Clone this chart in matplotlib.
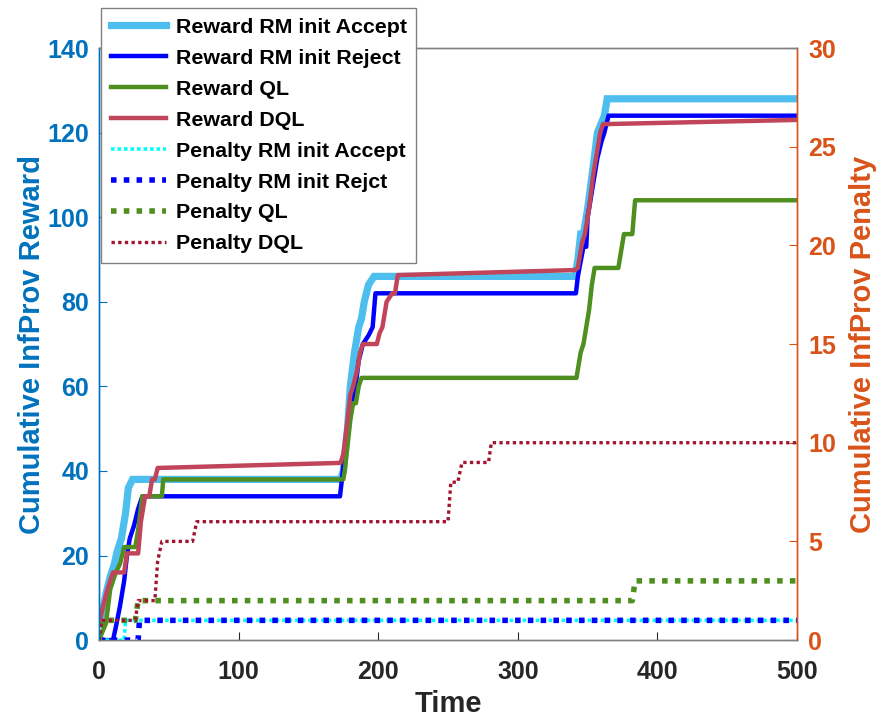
import matplotlib
matplotlib.use("Agg")
import matplotlib.pyplot as plt

plt.rcParams['font.family'] = ['Liberation Sans', 'DejaVu Sans']
plt.rcParams['font.weight'] = 'bold'

# ---- data ----
t_acc = [0, 2, 5, 8, 11, 13, 16, 19, 21, 24, 173, 175, 178, 180, 183, 186, 188, 190, 193, 197,
         341, 343, 345, 347, 350, 354, 357, 362, 364, 500]
r_acc = [4, 6, 11, 15, 18, 21, 24, 30, 36, 38, 38, 40, 50, 60, 68, 74, 76, 80, 84, 86,
         86, 90, 96, 96, 102, 112, 120, 124, 128, 128]

t_rej = [0, 10, 12, 15, 18, 20, 22, 25, 28, 31, 172.6, 174, 177, 180, 183, 186, 189, 193, 196, 198,
         341.6, 343, 347, 349, 350, 353, 357, 360, 362, 365, 500]
r_rej = [0, 0, 3, 8, 14, 20, 24, 27, 31, 34, 34, 38, 48, 56, 58, 66, 70, 72, 74, 82,
         82, 86, 93, 93, 100, 106, 114, 118, 120, 124, 124]

t_ql = [0, 5, 8, 12, 15, 18, 26, 28, 31, 45, 46, 175, 176, 178, 180, 182, 184, 186, 188,
        342, 343, 345, 347, 349, 351, 353, 355, 372, 374, 376, 378, 382, 383, 384, 500]
r_ql = [0, 4, 12, 16, 18, 22, 22, 26, 34, 34, 38, 38, 40, 46, 52, 56, 56, 60, 62,
        62, 64, 68, 70, 74, 78, 84, 88, 88, 92, 96, 96, 96, 100, 104, 104]

t_dql = [0, 3, 6, 10, 18, 20, 28, 30, 33, 36, 38, 40, 42, 173, 175, 178, 180, 182, 185, 187, 189,
         199, 201, 203, 206, 210, 212, 214, 341, 343, 346, 348, 351, 354, 357, 359, 361, 500]
r_dql = [4, 8, 12, 16, 16, 20.5, 20.5, 28, 34, 34, 38, 38, 40.7, 41.9, 44, 52, 58, 60, 64, 68, 70,
         70, 72.6, 74, 80, 82, 82, 86.3, 87.5, 88, 94, 96, 102, 110, 116, 120, 122, 123]

t_pacc = [0, 18, 19, 500]
p_pacc = [0, 0, 1, 1]

t_prej = [0, 28, 29, 500]
p_prej = [0, 0, 1, 1]

t_pql = [0, 3, 26, 28, 382, 384, 500]
p_pql = [0, 1, 1, 2, 2, 3, 3]

t_pdql = [0, 2, 26, 28, 40, 42, 45, 67, 70, 250, 252, 257, 260, 279, 281, 500]
p_pdql = [0, 1, 1, 2, 2, 4, 5, 5, 6, 6, 8, 8, 9, 9, 10, 10]

labels = ["Reward RM init Accept", "Reward RM init Reject", "Reward QL", "Reward DQL",
          "Penalty RM init Accept", "Penalty RM init Rejct", "Penalty QL", "Penalty DQL"]

x_ticks = [0, 100, 200, 300, 400, 500]
y_ticks = [0, 20, 40, 60, 80, 100, 120, 140]
y2_ticks = [0, 5, 10, 15, 20, 25, 30]

# ---- styles ----
c_acc, c_rej, c_ql, c_dql = '#4DBEEE', '#0000FF', '#4E8F1F', '#C0455A'
c_pacc, c_prej, c_pql, c_pdql = '#00FFFF', '#0000FF', '#4E8F1F', '#A2142F'
c_left, c_right = '#0072BD', '#D95319'

fig = plt.figure(figsize=(8.81, 7.2), dpi=100)
ax = fig.add_axes([0.1124, 0.111, 0.7923, 0.8223])
ax2 = ax.twinx()

h1, = ax.plot(t_acc, r_acc, color=c_acc, lw=5.2, solid_joinstyle='miter')
h2, = ax.plot(t_rej, r_rej, color=c_rej, lw=3.2)
h3, = ax.plot(t_ql, r_ql, color=c_ql, lw=3.2)
h4, = ax.plot(t_dql, r_dql, color=c_dql, lw=3.2)

h5, = ax2.plot(t_pacc, p_pacc, color=c_pacc, lw=2.6, linestyle=(0, (1, 0.8)))
h6, = ax2.plot(t_prej, p_prej, color=c_prej, lw=4.0, linestyle=(0, (1, 1.3)))
h7, = ax2.plot(t_pql, p_pql, color=c_pql, lw=4.0, linestyle=(0, (1, 1.3)))
h8, = ax2.plot(t_pdql, p_pdql, color=c_pdql, lw=2.4, linestyle=(0, (1, 1)))

ax.set_xlim(0, 500)
ax.set_ylim(0, 140)
ax2.set_ylim(0, 30)
ax.set_xticks(x_ticks)
ax.set_yticks(y_ticks)
ax2.set_yticks(y2_ticks)

fs = 18
ax.tick_params(axis='x', direction='in', length=6, colors='#262626', labelsize=fs, pad=14)
ax.tick_params(axis='y', direction='in', length=6, colors=c_left, labelsize=fs, pad=7)
ax2.tick_params(axis='y', direction='in', length=6, colors=c_right, labelsize=fs, pad=8)
for lab in ax.get_xticklabels() + ax.get_yticklabels() + ax2.get_yticklabels():
    lab.set_fontweight('bold')

lfs = 21
ax.set_xlabel("Time", fontsize=lfs, fontweight='bold', color='#262626', labelpad=5)
ax.set_ylabel("Cumulative InfProv Reward", fontsize=lfs, fontweight='bold', color=c_left, labelpad=1)
ax2.set_ylabel("Cumulative InfProv Penalty", fontsize=lfs, fontweight='bold', color=c_right, labelpad=9)

for a in (ax, ax2):
    a.spines['top'].set_color('#808080')
    a.spines['bottom'].set_color('#808080')
    a.spines['left'].set_color(c_left)
    a.spines['right'].set_color(c_right)
    for s in a.spines.values():
        s.set_linewidth(1.0)

leg = ax2.legend([h1, h2, h3, h4, h5, h6, h7, h8], labels,
                 loc='upper left', bbox_to_anchor=(101 / 881, 1 - 8 / 720), bbox_transform=fig.transFigure,
                 prop={'weight': 'bold', 'size': 15.4},
                 handlelength=2.6, labelspacing=0.56, handletextpad=0.45,
                 borderpad=0.45, borderaxespad=0, fancybox=False, framealpha=1, edgecolor='#808080')
leg.get_frame().set_linewidth(1.0)
leg.set_zorder(10)

fig.savefig("out.png", dpi=100)
